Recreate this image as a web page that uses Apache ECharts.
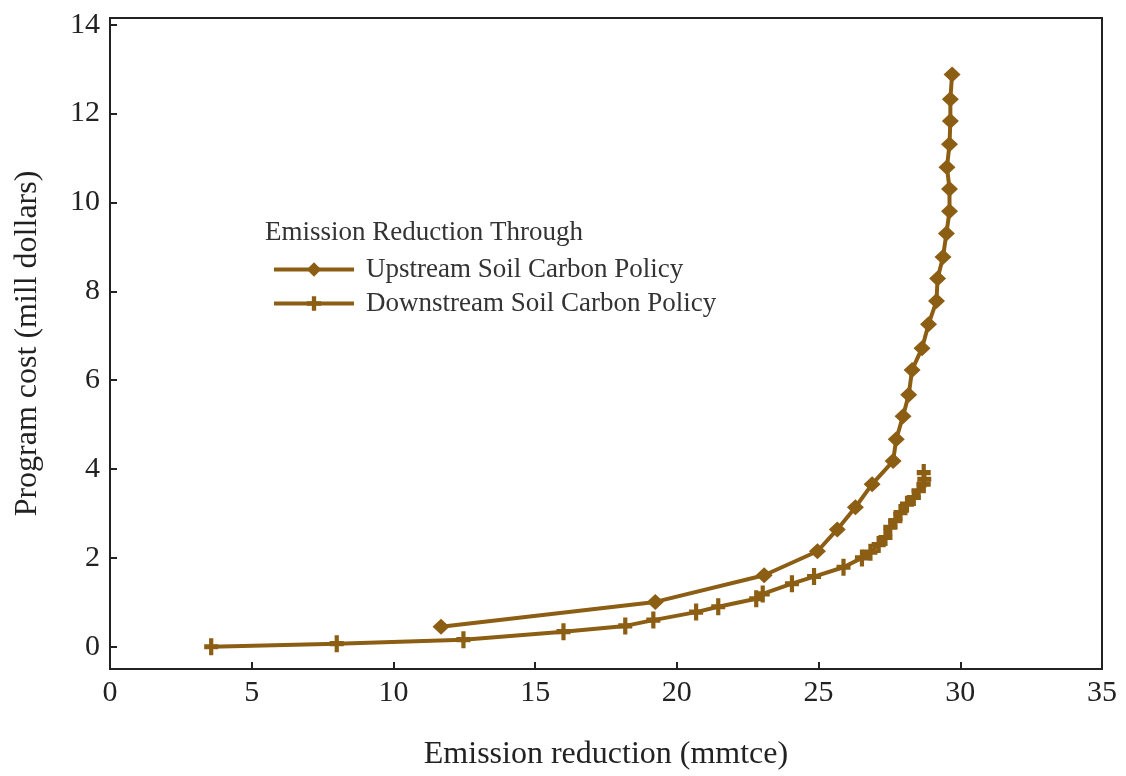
<!DOCTYPE html>
<html>
<head>
<meta charset="utf-8">
<script src="https://cdn.jsdelivr.net/npm/echarts@6/dist/echarts.min.js"></script>
<style>html,body{margin:0;padding:0;background:#fff;}#c{width:1126px;height:776px;}</style>
</head>
<body>
<div id="c"></div>
<script>
const upstreamX = [11.68, 19.24, 23.08, 24.96, 25.66, 26.30, 26.89, 27.63, 27.74, 27.98, 28.18, 28.30, 28.65, 28.88, 29.16, 29.20, 29.39, 29.51, 29.62, 29.62, 29.53, 29.62, 29.65, 29.65, 29.71];
const upstreamY = [0.45, 1.01, 1.61, 2.15, 2.64, 3.14, 3.66, 4.18, 4.67, 5.19, 5.67, 6.23, 6.72, 7.26, 7.78, 8.29, 8.77, 9.30, 9.80, 10.30, 10.79, 11.31, 11.83, 12.32, 12.88];
const downstreamX = [3.57, 8.00, 12.47, 16.00, 18.18, 19.17, 20.68, 21.46, 22.80, 23.03, 24.06, 24.84, 25.88, 26.53, 26.83, 27.12, 27.36, 27.53, 27.71, 27.89, 28.12, 28.36, 28.53, 28.71, 28.73, 28.71];
const downstreamY = [0.00, 0.07, 0.16, 0.34, 0.47, 0.60, 0.78, 0.90, 1.08, 1.19, 1.42, 1.58, 1.79, 2.00, 2.13, 2.30, 2.46, 2.69, 2.84, 3.02, 3.21, 3.36, 3.51, 3.66, 3.77, 3.92];
const yTicks = [0, 2, 4, 6, 8, 10, 12, 14];
const seriesNames = ['Upstream Soil Carbon Policy', 'Downstream Soil Carbon Policy'];
const legendTitle = 'Emission Reduction Through';
const xName = 'Emission reduction (mmtce)';
const yName = 'Program cost (mill dollars)';

const color = '#8C5E14';
const font = 'Liberation Serif';
const zip = (xs, ys) => xs.map((x, i) => [x, ys[i]]);
const plusPath = 'path://M3.5,0 H6.5 V3.5 H10 V6.5 H6.5 V10 H3.5 V6.5 H0 V3.5 H3.5 Z';

const chart = echarts.init(document.getElementById('c'), null, {renderer: 'canvas'});
chart.setOption({
  animation: false,
  backgroundColor: '#fff',
  textStyle: {fontFamily: font},
  grid: {left: 110, top: 18, width: 992, height: 654, show: true, borderColor: '#222', borderWidth: 2, containLabel: false},
  graphic: [{
    type: 'text', left: 265, top: 219,
    style: {text: legendTitle, font: '27px "Liberation Serif"', fill: '#333'}
  }],
  legend: {
    orient: 'vertical', left: 267, top: 251, itemWidth: 80, itemHeight: 18, itemGap: 7,
    lineStyle: {width: 4},
    textStyle: {fontFamily: font, fontSize: 27, color: '#333', padding: [0, 0, 0, 7]},
    data: seriesNames
  },
  xAxis: {
    type: 'value', min: 0, max: 35, interval: 5,
    name: xName, nameLocation: 'middle', nameGap: 70,
    nameTextStyle: {fontFamily: font, fontSize: 32, color: '#222'},
    axisLine: {show: true, onZero: false, lineStyle: {color: '#222', width: 2}},
    axisTick: {show: true, inside: true, length: 7, lineStyle: {color: '#222', width: 2}},
    axisLabel: {fontFamily: font, fontSize: 30, color: '#222', margin: 9},
    splitLine: {show: false}
  },
  yAxis: {
    type: 'value', min: -0.5, max: 14.15,
    name: yName, nameLocation: 'middle', nameGap: 66,
    nameTextStyle: {fontFamily: font, fontSize: 32, color: '#222'},
    axisLine: {show: true, onZero: false, lineStyle: {color: '#222', width: 2}},
    axisTick: {show: true, inside: true, length: 7, customValues: yTicks, lineStyle: {color: '#222', width: 2}},
    axisLabel: {fontFamily: font, fontSize: 30, color: '#222', margin: 10, customValues: yTicks},
    splitLine: {show: false}
  },
  series: [
    {
      name: seriesNames[0], type: 'line', data: zip(upstreamX, upstreamY),
      symbol: 'diamond', symbolSize: [17, 16], showAllSymbol: true,
      lineStyle: {color: color, width: 4}, itemStyle: {color: color}
    },
    {
      name: seriesNames[1], type: 'line', data: zip(downstreamX, downstreamY),
      symbol: plusPath, symbolSize: [14, 17], showAllSymbol: true,
      lineStyle: {color: color, width: 4}, itemStyle: {color: color}
    }
  ]
});
</script>
</body>
</html>
